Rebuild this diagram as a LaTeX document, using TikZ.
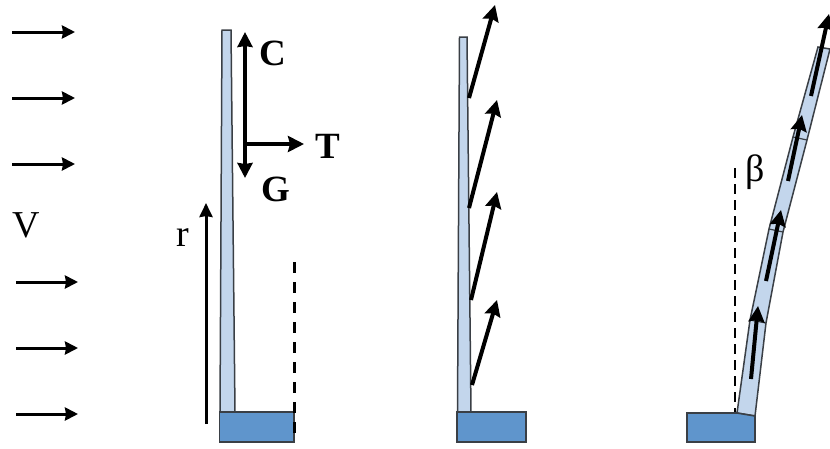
\documentclass[tikz,border=0pt]{standalone}
\usepackage{fontspec}
\setmainfont{Liberation Serif}
\usetikzlibrary{arrows.meta,positioning}

\definecolor{bladefill}{HTML}{C3D6EC}
\definecolor{basefill}{HTML}{5F95CC}
\definecolor{bladeline}{HTML}{3A3F45}

\tikzset{
  blade/.style={draw=bladeline, fill=bladefill, line width=1.5pt},
  hub/.style={draw=bladeline, fill=basefill, line width=1.6pt},
  flow/.style={-{Stealth[length=13pt, width=13pt, inset=1pt]}, line width=3pt},
  force/.style={-{Stealth[length=16pt, width=16pt, inset=2pt]}, line width=4pt},
  label/.style={font=\fontsize{38}{38}\selectfont},
  letter/.style={font=\fontsize{37}{37}\selectfont\bfseries},
}

\begin{document}
\begin{tikzpicture}[x=1pt, y=-1pt]
  \useasboundingbox (0,0) rectangle (830,448);

  %% Wind arrows on the left
  \foreach \y in {32,98,164}
    \draw[flow] (12,\y) -- (75,\y);
  \foreach \y in {282,348,414}
    \draw[flow] (16,\y) -- (78,\y);
  \node[label] (speed) at (26,225) {V};

  %% Straight blade with forces
  \draw[blade] (222,30) -- (231,30) -- (235,412) -- (220,412) -- cycle;
  \draw[hub] (219.5,412) rectangle (294,442);
  \draw[line width=3pt, dashed, dash pattern=on 11pt off 9pt] (294,262) -- (294,442);
  \draw[-{Stealth[length=14pt, width=13pt, inset=1pt]}, line width=3pt] (206,424) -- (206,203);
  \node[label] (radius) at (183,238) {r};
  \draw[{Stealth[length=15pt, width=15pt, inset=1pt]}-{Stealth[length=15pt, width=15pt, inset=1pt]}, line width=4pt] (245,32) -- (245,178);
  \draw[force] (245,144) -- (304,144);
  \node[letter] (thrustC) at (273,53) {C};
  \node[letter] (thrustT) at (328,146) {T};
  \node[letter] (thrustG) at (276,189) {G};

  %% Straight blade with tilted forces
  \draw[blade] (459.5,37) -- (467,37) -- (471,412) -- (457.5,412) -- cycle;
  \draw[hub] (457,412) rectangle (526,442);
  \draw[force] (469,98) -- (495,5);
  \draw[force] (469,208) -- (497,100);
  \draw[force] (471,300) -- (497,192);
  \draw[force] (472,385) -- (497,300);

  %% Coned blade
  \draw[line width=2.6pt, dashed, dash pattern=on 10pt off 6pt] (735,168) -- (735,413);
  \node[label] (coning) at (755,172) {β};
  \draw[blade] (737,413) -- (750,320) -- (769,229) -- (793,137) -- (818,47)
    -- (830,49) -- (807,140) -- (783,232) -- (766,323) -- (755,416) -- cycle;
  \draw[bladeline, line width=1.2pt] (750,320) -- (766,323);
  \draw[bladeline, line width=1.2pt] (769,229) -- (783,232);
  \draw[bladeline, line width=1.2pt] (793,137) -- (807,140);
  \draw[hub] (687,413) -- (737,413) -- (755,416) -- (755,442) -- (687,442) -- cycle;
  \draw[force] (751,379) -- (758,306);
  \draw[force] (766,281) -- (781,210);
  \draw[force] (788,181) -- (802,115);
  \draw[force] (811,96) -- (829,14);
\end{tikzpicture}
\end{document}
